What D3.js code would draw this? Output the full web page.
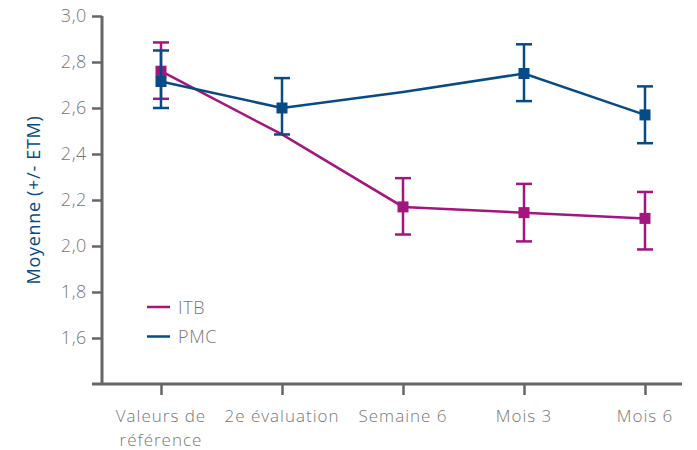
<!DOCTYPE html>
<html>
<head>
<meta charset="utf-8">
<script src="https://cdn.jsdelivr.net/npm/d3@7"></script>
<style>
  body { margin: 0; background: #fff; }
  text { font-family: "Open Sans", "Lato", sans-serif; font-weight: 300; }
</style>
</head>
<body>
<div id="chart"></div>
<script>
const CATEGORIES = ["Valeurs de|référence", "2e évaluation", "Semaine 6", "Mois 3", "Mois 6"]
const Y_TICKS = [1.6, 1.8, 2.0, 2.2, 2.4, 2.6, 2.8, 3.0]

// ITB: pas de marqueur ni d'erreur à la 2e évaluation
const ITB_MEAN = [2.76, 2.485, 2.17, 2.145, 2.12]
const ITB_LOW  = [2.64, null, 2.05, 2.02, 1.985]
const ITB_HIGH = [2.885, null, 2.295, 2.27, 2.235]

const PMC_MEAN = [2.715, 2.60, 2.67, 2.75, 2.57]
const PMC_LOW  = [2.60, 2.485, null, 2.63, 2.447]
const PMC_HIGH = [2.85, 2.73, null, 2.877, 2.694]

const width = 697, height = 450
const MAGENTA = "#a3157f", BLUE = "#074b86", AXIS = "#666", LABEL = "#777"

const svg = d3.select("#chart").append("svg")
  .attr("width", width).attr("height", height)

const x = d3.scalePoint().domain(CATEGORIES).range([161, 645])
const y = d3.scaleLinear().domain([1.4, 3.0]).range([384, 16])

// axes
const yAxis = svg.append("g")
  .attr("transform", "translate(102,0)")
  .call(d3.axisLeft(y).tickValues(Y_TICKS).tickSize(10).tickPadding(5)
    .tickFormat(d => d3.format(".1f")(d).replace(".", ",")))
yAxis.select(".domain").attr("d", "M0," + y(3.0) + "V" + y(1.4))
  .attr("stroke", AXIS).attr("stroke-width", 3)
yAxis.selectAll("line").attr("stroke", AXIS).attr("stroke-width", 2.5)
yAxis.selectAll("text").attr("fill", LABEL)
  .style("font-size", "18px").style("letter-spacing", "0.6px")

const xAxis = svg.append("g")
  .attr("transform", "translate(0,384)")
  .call(d3.axisBottom(x).tickSize(11).tickFormat(""))
xAxis.select(".domain").attr("d", "M92,0H682").attr("stroke", AXIS).attr("stroke-width", 3)
xAxis.selectAll("line").attr("stroke", AXIS).attr("stroke-width", 2.5)

// x labels, "|" splits a label over two lines
CATEGORIES.forEach(function(c) {
  c.split("|").forEach(function(part, i) {
    svg.append("text")
      .attr("x", x(c))
      .attr("y", 422 + i * 23.5)
      .attr("text-anchor", "middle")
      .attr("fill", LABEL)
      .style("font-size", "17px")
      .style("letter-spacing", "1px")
      .text(part)
  })
})

// y label
svg.append("text")
  .attr("transform", "translate(40,200) rotate(-90)")
  .attr("text-anchor", "middle")
  .attr("fill", BLUE)
  .style("font-size", "18px")
  .style("letter-spacing", "0.7px")
  .style("font-weight", 400)
  .text("Moyenne (+/- ETM)")

function drawSeries(mean, low, high, color) {
  const g = svg.append("g")
  const pts = mean.map((m, i) => ({ c: CATEGORIES[i], m: m, lo: low[i], hi: high[i] }))
  const line = d3.line().x(d => x(d.c)).y(d => y(d.m))
  g.append("path").datum(pts)
    .attr("d", line).attr("fill", "none")
    .attr("stroke", color).attr("stroke-width", 2.5)

  const marked = pts.filter(d => d.lo != null)
  const eb = g.selectAll(".eb").data(marked).enter().append("g")
  eb.append("line")
    .attr("x1", d => x(d.c)).attr("x2", d => x(d.c))
    .attr("y1", d => y(d.lo)).attr("y2", d => y(d.hi))
    .attr("stroke", color).attr("stroke-width", 2.5)
  eb.selectAll(".cap").data(d => [d.lo, d.hi].map(v => ({ c: d.c, v: v })))
    .enter().append("line")
      .attr("x1", d => x(d.c) - 8).attr("x2", d => x(d.c) + 8)
      .attr("y1", d => y(d.v)).attr("y2", d => y(d.v))
      .attr("stroke", color).attr("stroke-width", 2.5)
  eb.append("rect")
    .attr("x", d => x(d.c) - 5.5).attr("y", d => y(d.m) - 5.5)
    .attr("width", 11).attr("height", 11)
    .attr("fill", color)
}

drawSeries(ITB_MEAN, ITB_LOW, ITB_HIGH, MAGENTA)
drawSeries(PMC_MEAN, PMC_LOW, PMC_HIGH, BLUE)

// legend
const legend = svg.append("g")
const LEGEND = [["ITB", MAGENTA], ["PMC", BLUE]]
legend.selectAll("line").data(LEGEND).enter().append("line")
  .attr("x1", 147).attr("x2", 170)
  .attr("y1", (d, i) => 307 + i * 29.5).attr("y2", (d, i) => 307 + i * 29.5)
  .attr("stroke", d => d[1]).attr("stroke-width", 2.5)
legend.selectAll("text").data(LEGEND).enter().append("text")
  .attr("x", 178).attr("y", (d, i) => 313.5 + i * 29.5)
  .attr("fill", LABEL).style("font-size", "18px").style("letter-spacing", "0.6px")
  .text(d => d[0])
</script>
</body>
</html>
